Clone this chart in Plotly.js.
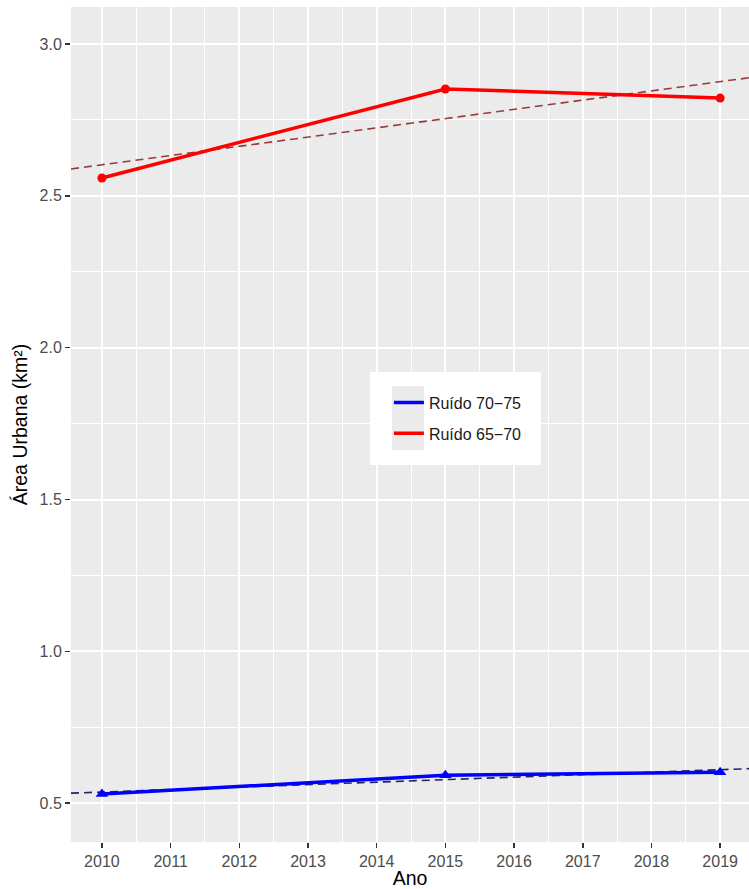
<!DOCTYPE html>
<html>
<head>
<meta charset="utf-8">
<script src="https://cdn.plot.ly/plotly-3.0.1.min.js"></script>
<style>html,body{margin:0;padding:0;background:#fff;}#chart{width:749px;height:889px;}</style>
</head>
<body>
<div id="chart"></div>
<script>
const years = [2010, 2015, 2019];
const ruido7075 = [0.530, 0.592, 0.602];
const ruido6570 = [2.559, 2.852, 2.822];
const seriesNames = ['Ruído 70−75', 'Ruído 65−70'];
const xTicks = [2010, 2011, 2012, 2013, 2014, 2015, 2016, 2017, 2018, 2019];
const yTicks = [0.5, 1.0, 1.5, 2.0, 2.5, 3.0];

const xRange = [2009.55, 2019.42];

function fit(xs, ys) {
  const n = xs.length;
  const mx = xs.reduce((a, b) => a + b, 0) / n;
  const my = ys.reduce((a, b) => a + b, 0) / n;
  let sxy = 0, sxx = 0;
  for (let i = 0; i < n; i++) { sxy += (xs[i] - mx) * (ys[i] - my); sxx += (xs[i] - mx) ** 2; }
  const b = sxy / sxx, a = my - b * mx;
  return xRange.map(x => a + b * x);
}

const traces = [
  {x: xRange, y: fit(years, ruido6570), mode: 'lines', line: {color: 'rgba(139,26,26,0.85)', width: 1.6, dash: '8px,5px'}, showlegend: false, hoverinfo: 'skip'},
  {x: xRange, y: fit(years, ruido7075), mode: 'lines', line: {color: 'rgba(0,0,80,0.85)', width: 1.6, dash: '8px,5px'}, showlegend: false, hoverinfo: 'skip'},
  {x: years, y: ruido7075, mode: 'lines', name: seriesNames[0], legendgroup: 'a', line: {color: '#0000FF', width: 3.5}},
  {x: years, y: ruido6570, mode: 'lines', name: seriesNames[1], legendgroup: 'b', line: {color: '#FF0000', width: 3.5}},
  {x: years, y: ruido7075, mode: 'markers', marker: {color: '#0000FF', size: 11, symbol: 'triangle-up'}, showlegend: false},
  {x: years, y: ruido6570, mode: 'markers', marker: {color: '#FF0000', size: 9, symbol: 'circle'}, showlegend: false}
];

const layout = {
  width: 749, height: 889,
  margin: {l: 71, r: 0, t: 7, b: 47},
  paper_bgcolor: '#FFFFFF',
  plot_bgcolor: '#EBEBEB',
  font: {family: 'Liberation Sans, Arial, sans-serif', color: '#000'},
  showlegend: true,
  legend: {
    x: 0.4689, y: 0.5466, xanchor: 'left', yanchor: 'top',
    bgcolor: 'rgba(0,0,0,0)', borderwidth: 0,
    font: {size: 16, color: '#1A1A1A'},
    tracegroupgap: 7
  },
  shapes: [
    {type: 'rect', xref: 'paper', yref: 'paper', x0: 0.441, x1: 0.6932, y0: 0.4515, y1: 0.5629, fillcolor: '#FFFFFF', line: {width: 0}, layer: 'above'},
    {type: 'rect', xref: 'paper', yref: 'paper', x0: 0.4735, x1: 0.5206, y0: 0.4695, y1: 0.5461, fillcolor: '#EBEBEB', line: {width: 0}, layer: 'above'}
  ],
  xaxis: {
    range: xRange, tickmode: 'array', tickvals: xTicks, ticktext: xTicks.map(String),
    showgrid: true, gridcolor: '#FFFFFF', gridwidth: 2,
    minor: {dtick: 1, tick0: 2009.5, showgrid: true, gridcolor: '#FFFFFF', gridwidth: 1},
    zeroline: false, showline: false,
    ticks: 'outside', ticklen: 5, tickwidth: 1.5, tickcolor: '#333333',
    tickfont: {size: 16, color: '#4D4D4D'},
    title: {text: 'Ano', font: {size: 19.5, color: '#000'}, standoff: 4}
  },
  yaxis: {
    range: [0.372, 3.122], tickmode: 'array', tickvals: yTicks, ticktext: yTicks.map(v => v.toFixed(1)),
    showgrid: true, gridcolor: '#FFFFFF', gridwidth: 2,
    minor: {dtick: 0.5, tick0: 0.25, showgrid: true, gridcolor: '#FFFFFF', gridwidth: 1},
    zeroline: false, showline: false,
    ticks: 'outside', ticklen: 5, tickwidth: 1.5, tickcolor: '#333333',
    tickfont: {size: 16, color: '#4D4D4D'},
    title: {text: 'Área Urbana (km²)', font: {size: 19.5, color: '#000'}, standoff: 6}
  }
};

Plotly.newPlot('chart', traces, layout, {displayModeBar: false, staticPlot: true});
</script>
</body>
</html>
